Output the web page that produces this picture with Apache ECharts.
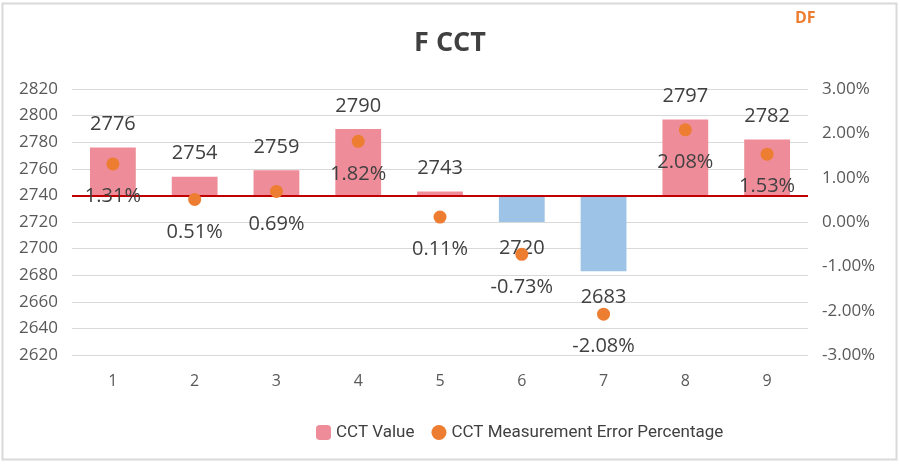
<!DOCTYPE html>
<html>
<head>
<meta charset="utf-8">
<script src="https://cdn.jsdelivr.net/npm/echarts@6/dist/echarts.min.js"></script>
<style>html,body{margin:0;padding:0;background:#fff}#c{width:900px;height:464px}</style>
</head>
<body>
<div id="c"></div>
<script>
var categories = ['1','2','3','4','5','6','7','8','9'];
var cctValues = [2776, 2754, 2759, 2790, 2743, 2720, 2683, 2797, 2782];
var errorPct = [1.31, 0.51, 0.69, 1.82, 0.11, -0.73, -2.08, 2.08, 1.53];
var baseline = 2740;

var pink = '#EE8D99', blue = '#9DC3E6', orange = '#ED7D31';
var labelFont = 'Open Sans';

var baseData = cctValues.map(function(v){ return Math.min(v, baseline); });
var deltaData = cctValues.map(function(v){
  var neg = v < baseline;
  return {
    value: Math.abs(v - baseline),
    itemStyle: { color: neg ? blue : pink },
    label: { position: neg ? 'bottom' : 'top', distance: neg ? 16 : 13 }
  };
});

var chart = echarts.init(document.getElementById('c'));
chart.setOption({
  animation: false,
  title: {
    text: 'F CCT', left: 'center', top: 25,
    textStyle: { fontFamily: labelFont, fontSize: 27, fontWeight: 'bold', color: '#404040' }
  },
  graphic: [
    { type: 'rect', shape: { x: 2.5, y: 3.5, width: 894, height: 456 }, style: { fill: 'none', stroke: '#D9D9D9', lineWidth: 2 } },
    { type: 'text', left: 795, top: 10, style: { text: 'DF', fill: orange, font: 'bold 16px "Open Sans"' } }
  ],
  legend: {
    data: ['CCT Value', 'CCT Measurement Error Percentage'],
    left: 311, top: 419,
    itemWidth: 15, itemHeight: 15, itemGap: 17,
    textStyle: { fontFamily: 'Roboto', fontSize: 17, color: '#404040' }
  },
  grid: { left: 72, right: 92, top: 89, bottom: 109 },
  xAxis: {
    type: 'category', data: categories,
    axisLine: { show: false }, axisTick: { show: false },
    axisLabel: { fontFamily: labelFont, fontSize: 16, color: '#595959', margin: 18 }
  },
  yAxis: [
    {
      type: 'value', min: 2620, max: 2820, interval: 20,
      axisLine: { show: false }, axisTick: { show: false },
      splitLine: { lineStyle: { color: '#D9D9D9', width: 1 } },
      axisLabel: { fontFamily: labelFont, fontSize: 17, color: '#595959', margin: 14,
        formatter: function(v){ return String(v); } }
    },
    {
      type: 'value', min: -3, max: 3, interval: 1,
      axisLine: { show: false }, axisTick: { show: false }, splitLine: { show: false },
      axisLabel: { fontFamily: labelFont, fontSize: 17, color: '#595959', margin: 14,
        formatter: function(v){ return v.toFixed(2) + '%'; } }
    }
  ],
  series: [
    {
      name: 'base', type: 'bar', stack: 'cct', data: baseData, barWidth: '56%',
      itemStyle: { color: 'rgba(0,0,0,0)' }, silent: true, z: 1
    },
    {
      name: 'CCT Value', type: 'bar', stack: 'cct', data: deltaData, barWidth: '56%',
      itemStyle: { color: pink }, z: 2,
      label: {
        show: true, fontFamily: labelFont, fontSize: 20, color: '#404040',
        formatter: function(p){ return cctValues[p.dataIndex]; }
      },
      markLine: {
        silent: true, symbol: 'none', label: { show: false },
        lineStyle: { color: '#C00000', width: 2, type: 'solid' },
        data: [{ yAxis: baseline }]
      }
    },
    {
      name: 'CCT Measurement Error Percentage', type: 'scatter', yAxisIndex: 1,
      data: errorPct, symbolSize: 13, itemStyle: { color: orange, opacity: 1 }, z: 5,
      label: {
        show: true, position: 'bottom', distance: 16,
        fontFamily: labelFont, fontSize: 20, color: '#404040',
        formatter: function(p){ return p.value.toFixed(2) + '%'; }
      }
    }
  ]
});
</script>
</body>
</html>
